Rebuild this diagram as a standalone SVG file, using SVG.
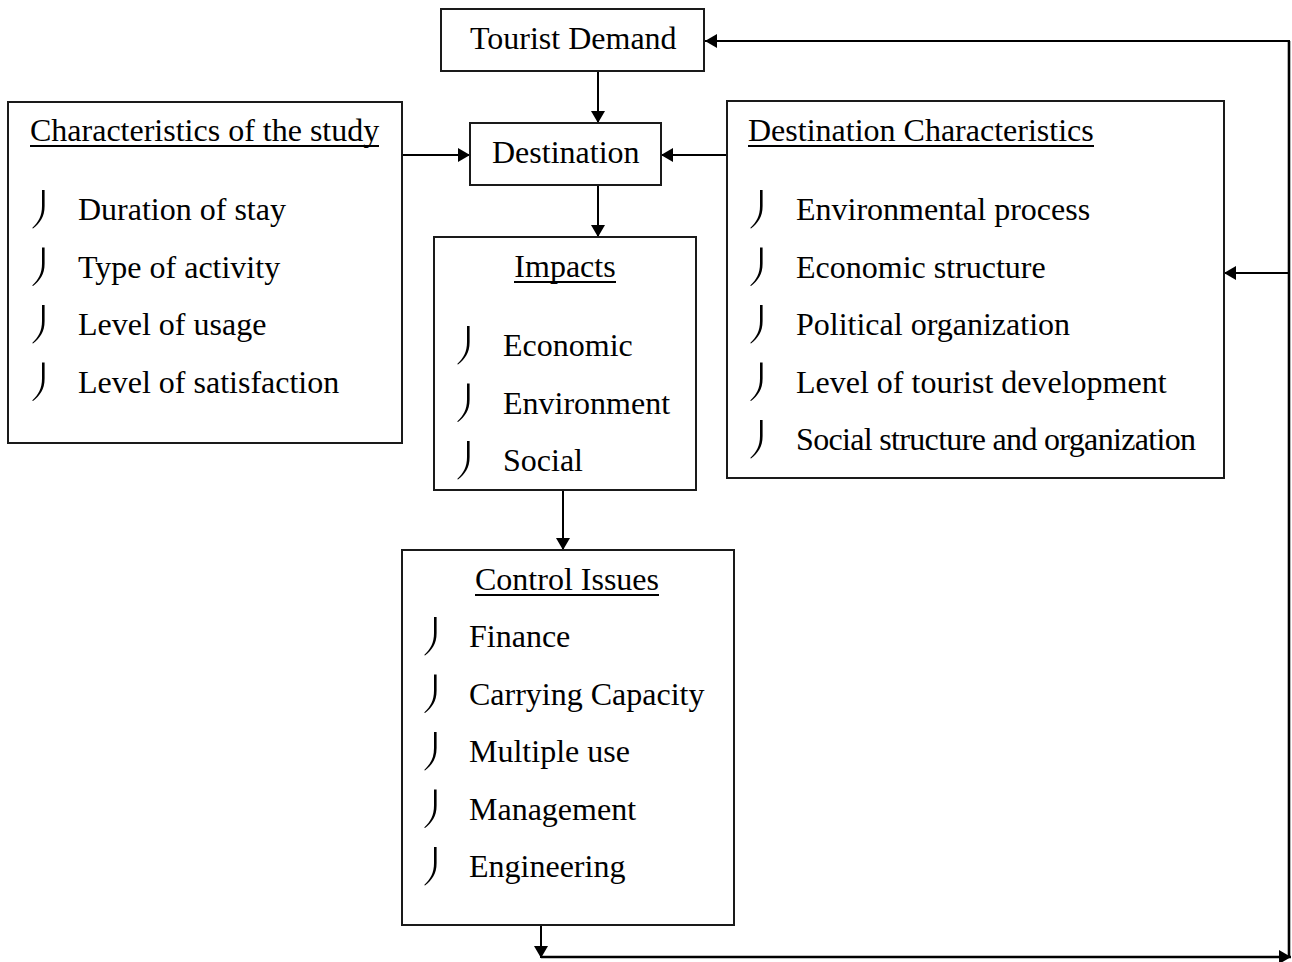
<svg xmlns="http://www.w3.org/2000/svg" xmlns:xlink="http://www.w3.org/1999/xlink" width="1292" height="962" viewBox="0 0 1292 962">
  <style>
    .box { fill: #ffffff; stroke: #1a1a1a; stroke-width: 2; }
    .txt { font-family: "Liberation Serif", "Times New Roman", serif; font-size: 32px; fill: #000000; }
    .mid { text-anchor: middle; }
    .ul { stroke: #000000; stroke-width: 2; }
    .conn { fill: none; stroke: #000000; stroke-width: 2; }
    .thick { stroke-width: 2.6; }
    .tick { fill: #000000; }
  </style>
  <defs>
    <marker id="arrow" markerUnits="userSpaceOnUse" markerWidth="13" markerHeight="14" refX="12" refY="7" orient="auto">
      <path d="M0,0 L12,7 L0,14 Z" fill="#000000"/>
    </marker>
    <!-- curved bullet mark; origin at the text baseline, right edge of the stroke -->
    <path id="tick" class="tick" d="M -2,-30 L 0.6,-30 L 0.6,-14 C 0.6,-3 -4,3 -11,8.5 L -11.8,8 C -5.5,2 -2,-4 -2,-14 Z"/>
  </defs>

  <!-- connectors -->
  <g id="connectors">
    <line class="conn" x1="598" y1="71" x2="598" y2="123" marker-end="url(#arrow)"/>
    <line class="conn" x1="402" y1="155" x2="470" y2="155" marker-end="url(#arrow)"/>
    <line class="conn" x1="727" y1="155" x2="661" y2="155" marker-end="url(#arrow)"/>
    <line class="conn" x1="598" y1="185" x2="598" y2="237" marker-end="url(#arrow)"/>
    <line class="conn" x1="563" y1="490" x2="563" y2="550" marker-end="url(#arrow)"/>
    <line class="conn" x1="541" y1="925" x2="541" y2="958" marker-end="url(#arrow)"/>
    <line class="conn thick" x1="541" y1="957" x2="1291" y2="957" marker-end="url(#arrow)"/>
    <line class="conn thick" x1="1289" y1="957" x2="1289" y2="41"/>
    <line class="conn" x1="1290" y1="41" x2="705" y2="41" marker-end="url(#arrow)"/>
    <line class="conn" x1="1289" y1="273" x2="1224" y2="273" marker-end="url(#arrow)"/>
  </g>

  <!-- Tourist Demand -->
  <g id="tourist-demand">
    <rect class="box" x="441" y="9" width="263" height="62"/>
    <text class="txt" x="470" y="49">Tourist Demand</text>
  </g>

  <!-- Destination -->
  <g id="destination">
    <rect class="box" x="470" y="123" width="191" height="62"/>
    <text class="txt" x="492" y="163">Destination</text>
  </g>

  <!-- Characteristics of the study -->
  <g id="study-characteristics">
    <rect class="box" x="8" y="102" width="394" height="341"/>
    <text class="txt" x="30" y="141">Characteristics of the study</text>
    <line class="ul" x1="30" y1="146" x2="379" y2="146"/>
    <use xlink:href="#tick" x="44" y="220"/>
    <text class="txt" x="78" y="220">Duration of stay</text>
    <use xlink:href="#tick" x="44" y="277.5"/>
    <text class="txt" x="78" y="277.5">Type of activity</text>
    <use xlink:href="#tick" x="44" y="335"/>
    <text class="txt" x="78" y="335">Level of usage</text>
    <use xlink:href="#tick" x="44" y="392.5"/>
    <text class="txt" x="78" y="392.5">Level of satisfaction</text>
  </g>

  <!-- Destination Characteristics -->
  <g id="destination-characteristics">
    <rect class="box" x="727" y="101" width="497" height="377"/>
    <text class="txt" x="748" y="141">Destination Characteristics</text>
    <line class="ul" x1="748" y1="146" x2="1094" y2="146"/>
    <use xlink:href="#tick" x="762" y="220"/>
    <text class="txt" x="796" y="220">Environmental process</text>
    <use xlink:href="#tick" x="762" y="277.5"/>
    <text class="txt" x="796" y="277.5">Economic structure</text>
    <use xlink:href="#tick" x="762" y="335"/>
    <text class="txt" x="796" y="335">Political organization</text>
    <use xlink:href="#tick" x="762" y="392.5"/>
    <text class="txt" x="796" y="392.5">Level of tourist development</text>
    <use xlink:href="#tick" x="762" y="450"/>
    <text class="txt" x="796" y="450" textLength="400" lengthAdjust="spacing">Social structure and organization</text>
  </g>

  <!-- Impacts -->
  <g id="impacts">
    <rect class="box" x="434" y="237" width="262" height="253"/>
    <text class="txt mid" x="565" y="277">Impacts</text>
    <line class="ul" x1="514" y1="282" x2="616" y2="282"/>
    <use xlink:href="#tick" x="469" y="356"/>
    <text class="txt" x="503" y="356">Economic</text>
    <use xlink:href="#tick" x="469" y="413.5"/>
    <text class="txt" x="503" y="413.5">Environment</text>
    <use xlink:href="#tick" x="469" y="471"/>
    <text class="txt" x="503" y="471">Social</text>
  </g>

  <!-- Control Issues -->
  <g id="control-issues">
    <rect class="box" x="402" y="550" width="332" height="375"/>
    <text class="txt mid" x="567" y="590">Control Issues</text>
    <line class="ul" x1="475" y1="595" x2="659" y2="595"/>
    <use xlink:href="#tick" x="436" y="647"/>
    <text class="txt" x="469" y="647">Finance</text>
    <use xlink:href="#tick" x="436" y="704.5"/>
    <text class="txt" x="469" y="704.5">Carrying Capacity</text>
    <use xlink:href="#tick" x="436" y="762"/>
    <text class="txt" x="469" y="762">Multiple use</text>
    <use xlink:href="#tick" x="436" y="819.5"/>
    <text class="txt" x="469" y="819.5">Management</text>
    <use xlink:href="#tick" x="436" y="877"/>
    <text class="txt" x="469" y="877">Engineering</text>
  </g>
</svg>
